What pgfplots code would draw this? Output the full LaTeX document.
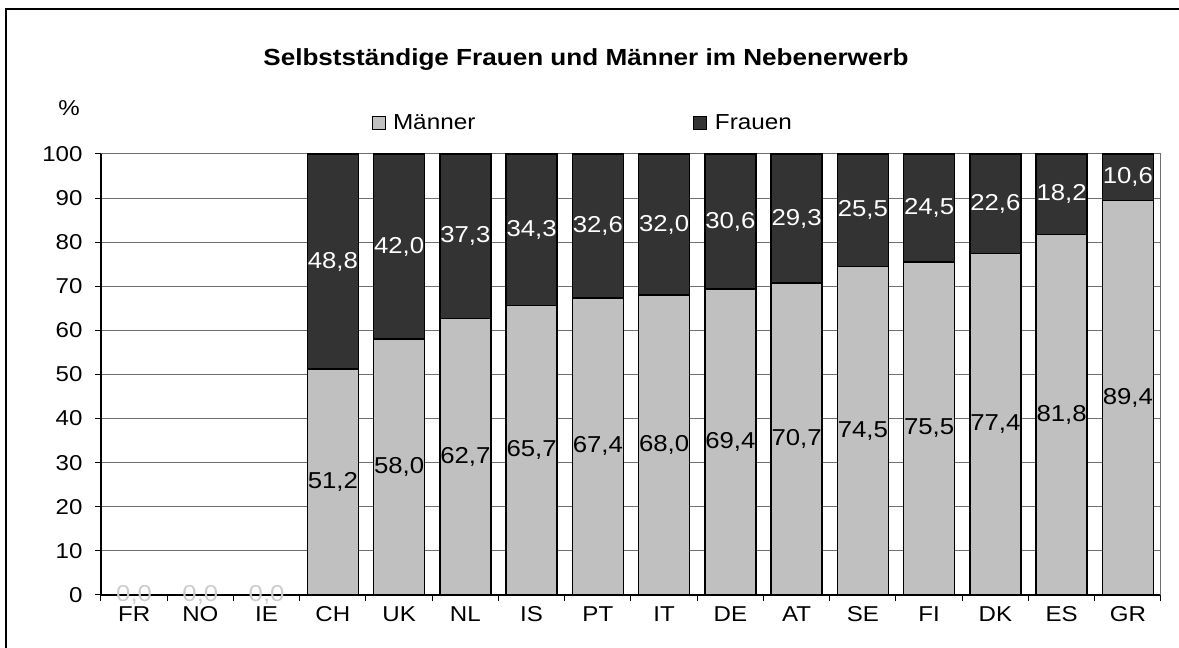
\documentclass[border=0pt]{standalone}
\usepackage{pgfplots}
\usepackage{pgfplotstable}
\pgfplotsset{compat=1.18}
\usepackage{fontspec}
\setmainfont[FakeStretch=1.12]{Liberation Sans}
\definecolor{men}{RGB}{192,192,192}
\definecolor{women}{RGB}{51,51,51}
\definecolor{gridc}{RGB}{110,110,110}

\pgfplotstableread{
x  m     w
0  0     0
1  0     0
2  0     0
3  51.2  48.8
4  58.0  42.0
5  62.7  37.3
6  65.7  34.3
7  67.4  32.6
8  68.0  32.0
9  69.4  30.6
10 70.7  29.3
11 74.5  25.5
12 75.5  24.5
13 77.4  22.6
14 81.8  18.2
15 89.4  10.6
}\data

\begin{document}
\begin{tikzpicture}[x=1pt,y=1pt]
\useasboundingbox (0,0) rectangle (1179,648);
\draw[line width=1.5pt] (6,0) -- (6,639) -- (1179,639);
\node[font=\bfseries\fontsize{23.3}{27}\selectfont] at (586,588) {Selbstständige Frauen und Männer im Nebenerwerb};
\node[font=\fontsize{21.5}{24}\selectfont] at (69,540) {\%};

\begin{axis}[
  at={(101pt,53pt)}, anchor=south west,
  scale only axis, width=1060pt, height=441pt,
  xmin=-0.5, xmax=15.5, ymin=0, ymax=100,
  ybar stacked, bar width=51pt,
  axis x line*=bottom, axis y line*=left,
  axis line style={black, line width=1.3pt},
  tick align=outside, major tick length=6pt,
  tick style={black, line width=1pt},
  ytick={0,10,...,100},
  xtick={-0.5,0.5,...,15.5}, xticklabels={},
  extra x ticks={0,1,...,15},
  extra x tick labels={FR,NO,IE,CH,UK,NL,IS,PT,IT,DE,AT,SE,FI,DK,ES,GR},
  extra x tick style={major tick length=0pt, xticklabel style={yshift=-8pt, text height=15pt, text depth=0pt}},
  ymajorgrids, grid style={gridc, line width=1pt},
  ticklabel style={font=\fontsize{21.5}{24}\selectfont},
  yticklabel style={xshift=-9pt},
  /pgf/number format/assume math mode=true,
  legend columns=2,
  legend style={at={(0.255,1.07)}, anchor=west, draw=none, fill=none,
    font=\fontsize{21.7}{25}\selectfont, inner sep=0pt,
    /tikz/every even column/.append style={column sep=216pt}},
  legend image code/.code={\draw[#1, line width=1pt] (0pt,-6.5pt) rectangle (13pt,6.5pt); \path[draw=none, fill=none] (0pt,0pt) -- (19pt,0pt);},
  clip=false,
]
\addplot[fill=men, draw=black, line width=1.5pt] table[x=x, y=m] {\data};
\addlegendentry{Männer}
\addplot[fill=women, draw=black, line width=1.5pt] table[x=x, y=w] {\data};
\addlegendentry{Frauen}
\draw[gridc, line width=1pt] (rel axis cs:1,0) -- (rel axis cs:1,1);
\end{axis}

\begin{axis}[
  at={(101pt,53pt)}, anchor=south west,
  scale only axis, width=1060pt, height=441pt,
  xmin=-0.5, xmax=15.5, ymin=0, ymax=100,
  hide axis, clip=false,
  /pgf/number format/assume math mode=true,
  nodes near coords={\pgfmathprintnumber[fixed,fixed zerofill,precision=1,use comma,assume math mode=true]{\pgfplotspointmeta}},
  every node near coord/.append style={anchor=center, font=\fontsize{23}{26}\selectfont, inner sep=0pt},
]
\addplot[draw=none, restrict x to domain=0:2, point meta=\thisrow{m},
  every node near coord/.append style={text=gray!40}] table[x=x, y expr=\thisrow{m}/2] {\data};
\addplot[draw=none, restrict x to domain=3:15, point meta=\thisrow{m},
  every node near coord/.append style={text=black}] table[x=x, y expr=\thisrow{m}/2] {\data};
\addplot[draw=none, restrict x to domain=3:15, point meta=\thisrow{w},
  every node near coord/.append style={text=white}] table[x=x, y expr=\thisrow{m}+\thisrow{w}/2] {\data};
\end{axis}
\end{tikzpicture}
\end{document}
